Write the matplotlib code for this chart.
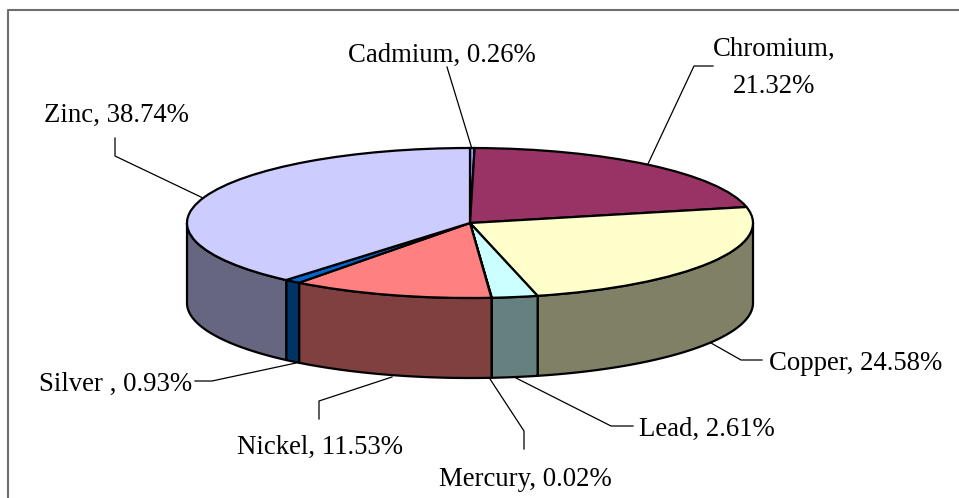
import numpy as np
import matplotlib
matplotlib.use("Agg")
import matplotlib.pyplot as plt
from matplotlib.patches import Polygon

categories = ["Cadmium", "Chromium", "Copper", "Lead", "Mercury", "Nickel", "Silver ", "Zinc"]
values = [0.26, 21.32, 24.58, 2.61, 0.02, 11.53, 0.93, 38.74]
top_colors = ["#9999FF", "#993366", "#FFFFCC", "#CCFFFF", "#660066", "#FF8080", "#0066CC", "#CCCCFF"]
side_colors = ["#666699", "#66223F", "#808066", "#668080", "#330033", "#804040", "#003366", "#666680"]
labels = ["Cadmium, 0.26%", "Chromium,\n21.32%", "Copper, 24.58%", "Lead, 2.61%",
          "Mercury, 0.02%", "Nickel, 11.53%", "Silver , 0.93%", "Zinc, 38.74%"]

W, H = 959, 498
CX, CY, RX, RY, DEPTH = 470, 223, 283, 75, 80

plt.rcParams["font.family"] = "Liberation Serif"
fig = plt.figure(figsize=(W / 100, H / 100), dpi=100, facecolor="white")
ax = fig.add_axes([0, 0, 1, 1])
wedges, _ = ax.pie(values, colors=top_colors, startangle=90, counterclock=False, radius=1,
                   wedgeprops=dict(edgecolor="black", linewidth=1.6, zorder=4))
ax.set_aspect("auto")
ax.set_xlim((0 - CX) / RX, (W - CX) / RX)
ax.set_ylim((CY - H) / RY, CY / RY)
ax.axis("off")
d = DEPTH / RY


def px(x, y):
    return (x - CX) / RX, (CY - y) / RY


# frame: only the top and left edges fall inside the picture
fx = [8.5, 8.5, W]
fy = [H, 10.5, 10.5]
ax.plot(*zip(*[px(a, b) for a, b in zip(fx, fy)]), color="#6e6e6e", lw=1.5, zorder=1, clip_on=False)

# side walls of the front half, from the same shares
edges = 90 - 3.6 * np.cumsum([0] + values)
for i in range(len(values)):
    a0, a1 = edges[i + 1], edges[i]
    for s0, s1 in [(-180, 0), (-540, -360)]:
        u0, u1 = max(a0, s0), min(a1, s1)
        if u1 > u0:
            t = np.radians(np.linspace(u0, u1, 60))
            top = np.c_[np.cos(t), np.sin(t)]
            bot = top[::-1] - [0, d]
            ax.add_patch(Polygon(np.r_[top, bot], closed=True, facecolor=side_colors[i],
                                 edgecolor="black", linewidth=1.6, zorder=3, joinstyle="round"))

# labels and leader lines (pixel positions)
label_pos = [(442, 55), (774, 68), (856, 363), (707, 429), (525, 479), (320.5, 447), (116, 384), (116, 115)]
leaders = [
    [(447, 67), (472, 149)],
    [(713, 66), (694, 66), (647, 166)],
    [(711, 343), (741, 360), (762, 360)],
    [(516, 378), (611, 426), (633, 426)],
    [(490, 379), (524, 431), (524, 449)],
    [(392, 377), (319, 401), (319, 419)],
    [(296, 363), (212, 381), (195, 381)],
    [(203, 198), (115, 156), (115, 138)],
]
for (lx, ly), txt in zip(label_pos, labels):
    ax.text(*px(lx, ly), txt, ha="center", va="center", fontsize=19.3, color="black",
            linespacing=1.62, zorder=6)
for seg in leaders:
    ax.plot(*zip(*[px(a, b) for a, b in seg]), color="black", lw=0.9, zorder=2, clip_on=False)

fig.savefig("out.png", dpi=100, facecolor="white")
